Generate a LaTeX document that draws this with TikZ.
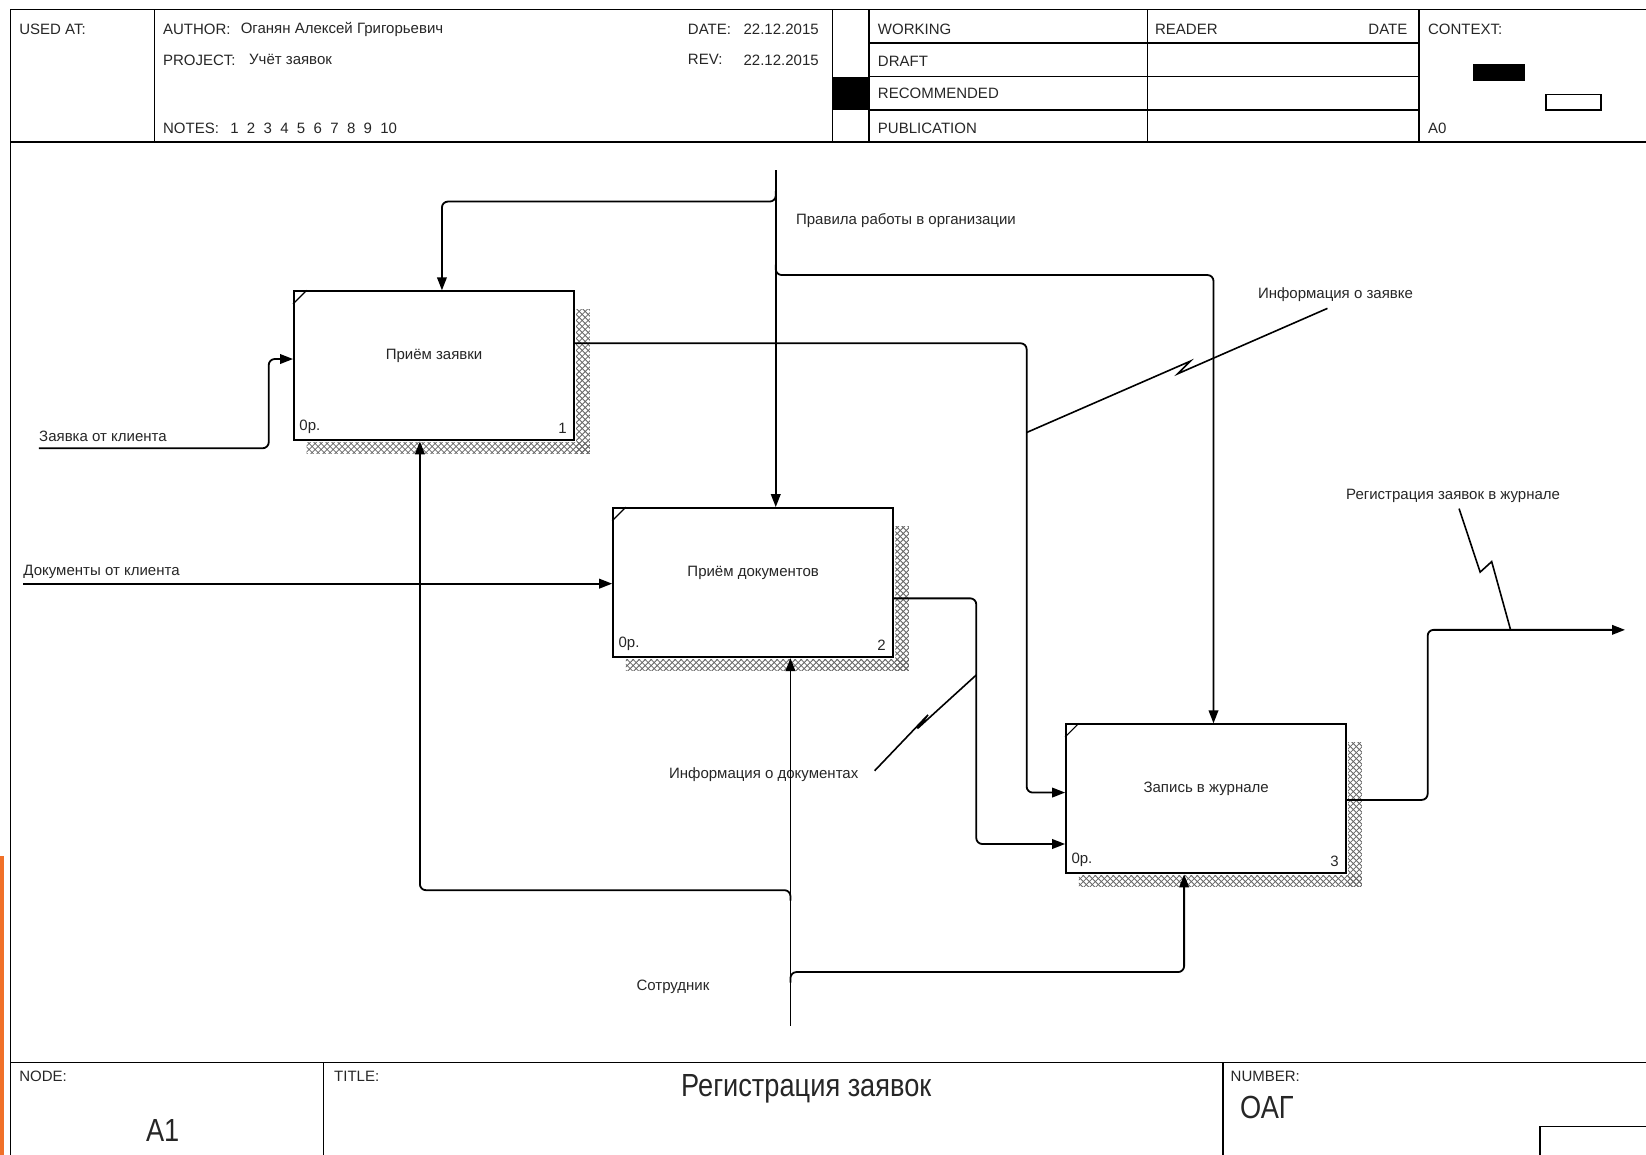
\documentclass[tikz,border=0pt]{standalone}
\usepackage{fontspec}
\setmainfont{Liberation Sans}
\newfontfamily\narrowfont[FakeStretch=0.85]{Liberation Sans}
\usetikzlibrary{arrows.meta,calc,patterns}
\definecolor{barorange}{RGB}{240,112,40}

\begin{document}
\begin{tikzpicture}[x=0.5248pt, y=-0.5248pt,
  txt/.style={font=\fontsize{7.5}{9}\selectfont, text=black!85, inner sep=0pt},
  bigtxt/.style={font=\narrowfont\fontsize{16}{18}\selectfont, text=black!85, inner sep=0pt},
  func/.style={draw, line width=1pt, fill=white, minimum width=140pt, minimum height=74.5pt, inner sep=0pt},
  flow/.style={line width=0.9pt, rounded corners=3pt},
  arr/.style={flow, -{Triangle[length=6.5pt,width=4.8pt]}},
  zig/.style={line width=0.8pt},
  frame/.style={line width=0.8pt},
  shade/.style={pattern=crosshatch, pattern color=black!60}]
  \useasboundingbox (0,0) rectangle (1568,1100);
  \fill[barorange] (0,815) rectangle (4,1100);

  % header
  \draw[frame] (1568,9) -- (10,9) -- (10,1100);
  \draw[frame] (10,135) -- (1568,135);
  \foreach \x in {147,793,828,1093,1352} \draw[frame] (\x,9) -- (\x,135);
  \foreach \y in {41,73,105} \draw[frame] (828,\y) -- (1352,\y);
  \fill (793,73) rectangle (828,105);
  \fill (1403,61) rectangle (1453,77);
  \draw[frame] (1473,90) rectangle (1525,105);

  \node[txt, anchor=west] (usedat) at (18,28) {USED AT:};
  \node[txt, anchor=west] (author) at (155,28) {AUTHOR:};
  \node[txt, anchor=west] (authorname) at (229,28) {Оганян Алексей Григорьевич};
  \node[txt, anchor=west] (project) at (155,57) {PROJECT:};
  \node[txt, anchor=west] (projectname) at (237,57) {Учёт заявок};
  \node[txt, anchor=west] (notes) at (155,122) {NOTES:};
  \node[txt, anchor=west] (notenums) at (219,122) {1~~2~~3~~4~~5~~6~~7~~8~~9~~10};
  \node[txt, anchor=west] (date) at (655,28) {DATE:};
  \node[txt, anchor=west] (dateval) at (708,28) {22.12.2015};
  \node[txt, anchor=west] (rev) at (655,57) {REV:};
  \node[txt, anchor=west] (revval) at (708,57) {22.12.2015};
  \node[txt, anchor=west] (working) at (836,28) {WORKING};
  \node[txt, anchor=west] (draft) at (836,58) {DRAFT};
  \node[txt, anchor=west] (recommended) at (836,89) {RECOMMENDED};
  \node[txt, anchor=west] (publication) at (836,122) {PUBLICATION};
  \node[txt, anchor=west] (reader) at (1100,28) {READER};
  \node[txt, anchor=east] (readerdate) at (1341,28) {DATE};
  \node[txt, anchor=west] (context) at (1360,28) {CONTEXT:};
  \node[txt, anchor=west] (ctxnode) at (1360,122) {A0};

  % footer
  \draw[frame] (10,1012) -- (1568,1012);
  \draw[frame] (308,1012) -- (308,1100);
  \draw[frame] (1165,1012) -- (1165,1100);
  \draw[frame] (1568,1073) -- (1467,1073) -- (1467,1100);
  \node[txt, anchor=west] (nodelbl) at (18,1025) {NODE:};
  \node[txt, anchor=west] (titlelbl) at (318,1025) {TITLE:};
  \node[txt, anchor=west] (numberlbl) at (1172,1025) {NUMBER:};
  \node[bigtxt] (nodeval) at (155,1077) {A1};
  \node[bigtxt] (titleval) at (768,1037) {Регистрация заявок};
  \node[bigtxt, anchor=west] (numberval) at (1181,1055) {ОАГ};

  % activity boxes
  \node[func] (a1) at (413.5,348.5) {};
  \node[func] (a2) at (717.5,555) {};
  \node[func] (a3) at (1149,761) {};
  \foreach \b/\t/\n in {a1/Приём заявки/1, a2/Приём документов/2, a3/Запись в журнале/3} {
    \fill[shade] ($(\b.north east)+(1,18)$) rectangle ($(\b.south east)+(14,12)$);
    \fill[shade] ($(\b.south west)+(13,1)$) rectangle ($(\b.south east)+(14,12)$);
    \draw[line width=0.6pt] ($(\b.north west)+(0,13)$) -- ($(\b.north west)+(13,0)$);
    \node[txt] (\b t) at ([yshift=5pt]\b.center) {\t};
    \node[txt, anchor=south west] (\b c) at ([shift={(3pt,3.5pt)}]\b.south west) {0р.};
    \node[txt, anchor=south east] (\b n) at ([shift={(-4pt,3.5pt)}]\b.south east) {\n};
  }

  % arrow labels
  \node[txt, anchor=west] (lzayavka) at (37,416) {Заявка от клиента};
  \node[txt, anchor=west] (ldocs) at (22,545) {Документы от клиента};
  \node[txt, anchor=west] (lrules) at (758,210) {Правила работы в организации};
  \node[txt, anchor=west] (linfoz) at (1198,281) {Информация о заявке};
  \node[txt, anchor=west] (linfod) at (637,738) {Информация о документах};
  \node[txt, anchor=west] (lreg) at (1282,472) {Регистрация заявок в журнале};
  \node[txt, anchor=west] (lemp) at (606,940) {Сотрудник};

  % control
  \coordinate (ctop) at (739,162);
  \coordinate (p1) at (421,192);
  \coordinate (p3) at (1156,262);
  \draw[arr] (ctop) -- (ctop |- a2.north);
  \draw[arr] (739,182) -- (ctop |- p1) -- (p1) -- (p1 |- a1.north);
  \draw[arr] (739,252) -- (ctop |- p3) -- (p3) -- (p3 |- a3.north);

  % inputs
  \coordinate (in1) at (37,427);
  \coordinate (j1) at (256,342);
  \draw[arr] (in1) -| (j1) -- (j1 -| a1.west);
  \coordinate (in2) at (22,556);
  \draw[arr] (in2) -- (in2 -| a2.west);

  % outputs
  \coordinate (o1) at (978,327);
  \coordinate (t1) at (978,755);
  \draw[arr] (o1 -| a1.east) -- (o1) -- (t1) -- (t1 -| a3.west);
  \coordinate (o2) at (930,570);
  \coordinate (t2) at (930,804);
  \draw[arr] (o2 -| a2.east) -- (o2) -- (t2) -- (t2 -| a3.west);
  \coordinate (o3) at (1360,762);
  \coordinate (t3) at (1360,600);
  \coordinate (out) at (1548,600);
  \draw[arr] (o3 -| a3.east) -- (o3) -- (t3) -- (out);

  % mechanism
  \coordinate (mbot) at (753,977);
  \coordinate (m1) at (400,848);
  \coordinate (m3) at (1128,926);
  \draw[arr] (mbot) -- (mbot |- a2.south);
  \draw[arr] (753,858) -- (mbot |- m1) -- (m1) -- (m1 |- a1.south);
  \draw[arr] (753,936) -- (mbot |- m3) -- (m3) -- (m3 |- a3.south);

  % squiggles
  \coordinate (sq1) at (978,412);
  \coordinate (sq2) at (930,643);
  \coordinate (sq3) at (1439,600);
  \draw[zig] ([xshift=-4pt,yshift=-3pt]linfoz.south) -- (1122,356) -- (1134,344) -- (sq1);
  \draw[zig] ([xshift=8pt,yshift=2pt]linfod.east) -- (884,681) -- (874,694) -- (sq2);
  \draw[zig] ([xshift=3pt,yshift=-3pt]lreg.south) -- (1410,545) -- (1421,535) -- (sq3);
\end{tikzpicture}
\end{document}
